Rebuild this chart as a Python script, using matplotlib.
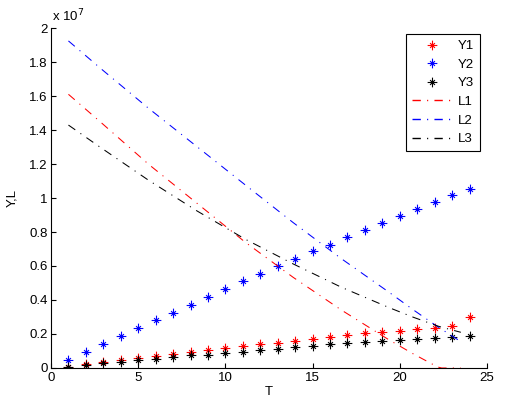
import numpy as np
import matplotlib
matplotlib.use("Agg")
import matplotlib.pyplot as plt
from matplotlib.path import Path
from matplotlib.ticker import FuncFormatter, MultipleLocator

plt.rcParams['font.family'] = ['Liberation Sans', 'DejaVu Sans']
plt.rcParams['lines.scale_dashes'] = False

SCALE = 1e7
T = list(range(1, 25))
Y1 = [0.008, 0.022, 0.034, 0.050, 0.059, 0.071, 0.085, 0.096, 0.108, 0.120, 0.130, 0.144,
      0.148, 0.160, 0.172, 0.182, 0.193, 0.203, 0.209, 0.217, 0.227, 0.238, 0.247, 0.302]
Y2 = [0.047, 0.096, 0.140, 0.188, 0.235, 0.282, 0.325, 0.371, 0.418, 0.466, 0.509, 0.555,
      0.600, 0.643, 0.686, 0.726, 0.769, 0.810, 0.852, 0.893, 0.935, 0.976, 1.018, 1.051]
Y3 = [0.005, 0.018, 0.028, 0.035, 0.045, 0.055, 0.063, 0.075, 0.079, 0.090, 0.096, 0.108,
      0.114, 0.122, 0.132, 0.142, 0.148, 0.154, 0.160, 0.166, 0.172, 0.178, 0.183, 0.189]

LT = [1, 2.86, 5.6, 8.37, 11.15, 13.89, 16.65, 19.39, 20.79, 22.17, 22.4, 23.5]
L1 = [1.610, 1.445, 1.198, 0.969, 0.739, 0.533, 0.341, 0.165, 0.082, 0.006, 0.0, 0.0]
L2 = [1.924, 1.761, 1.527, 1.302, 1.076, 0.855, 0.643, 0.445, 0.341, 0.243, 0.228, 0.155]
L3 = [1.429, 1.296, 1.104, 0.924, 0.757, 0.612, 0.475, 0.355, 0.298, 0.247, 0.240, 0.210]

# MATLAB-like '*' marker: plus + small cross
star = Path([(-1, 0), (1, 0), (0, -1), (0, 1),
             (-0.5, -0.5), (0.5, 0.5), (-0.5, 0.5), (0.5, -0.5)],
            [Path.MOVETO, Path.LINETO] * 4)

FS = 9.5
fig = plt.figure(figsize=(5.13, 3.97), dpi=100)
ax = fig.add_axes([51/513, 1 - 368/397, 436/513, 340/397])

def sc(v):
    return np.array(v) * SCALE

mk = dict(marker=star, markersize=7, markeredgewidth=0.8, linestyle='none')
ax.plot(T, sc(Y1), color='red', label='Y1', **mk)
ax.plot(T, sc(Y2), color='blue', label='Y2', **mk)
ax.plot(T, sc(Y3), color='black', label='Y3', **mk)

ls = dict(linewidth=0.75, dashes=(6, 4.5, 0.8, 4.5))
ax.plot(LT, sc(L1), color='red', label='L1', clip_on=False, **ls)
ax.plot(LT, sc(L2), color='blue', label='L2', **ls)
ax.plot(LT, sc(L3), color='black', label='L3', **ls)

ax.set_xlim(0, 25)
ax.set_ylim(0, 2 * SCALE)
ax.xaxis.set_major_locator(MultipleLocator(5))
ax.yaxis.set_major_locator(MultipleLocator(0.2 * SCALE))
ax.yaxis.set_major_formatter(FuncFormatter(lambda v, p: f"{v / SCALE:g}"))

for s in ['top', 'right']:
    ax.spines[s].set_visible(False)
for s in ['left', 'bottom']:
    ax.spines[s].set_linewidth(0.8)
ax.tick_params(direction='in', length=3.5, width=0.8, labelsize=FS)
ax.tick_params(axis='y', pad=2.5)
ax.tick_params(axis='x', pad=3)

ax.text(0.003, 1.01, r'x 10$^{7}$', transform=ax.transAxes, fontsize=FS,
        ha='left', va='bottom')

ax.set_xlabel('T', fontsize=FS, labelpad=1)
ax.set_ylabel('Y,L', fontsize=FS, labelpad=8)

leg = ax.legend(loc='upper right', bbox_to_anchor=(0.984, 0.982), borderaxespad=0,
                fontsize=FS, handlelength=3.0, handletextpad=0.45, labelspacing=0.48,
                borderpad=0.45, fancybox=False, framealpha=1, edgecolor='black')
leg.get_frame().set_linewidth(0.8)
for h in leg.get_lines()[3:]:
    h.set_linewidth(1.0)

fig.savefig('out.png', dpi=100)
